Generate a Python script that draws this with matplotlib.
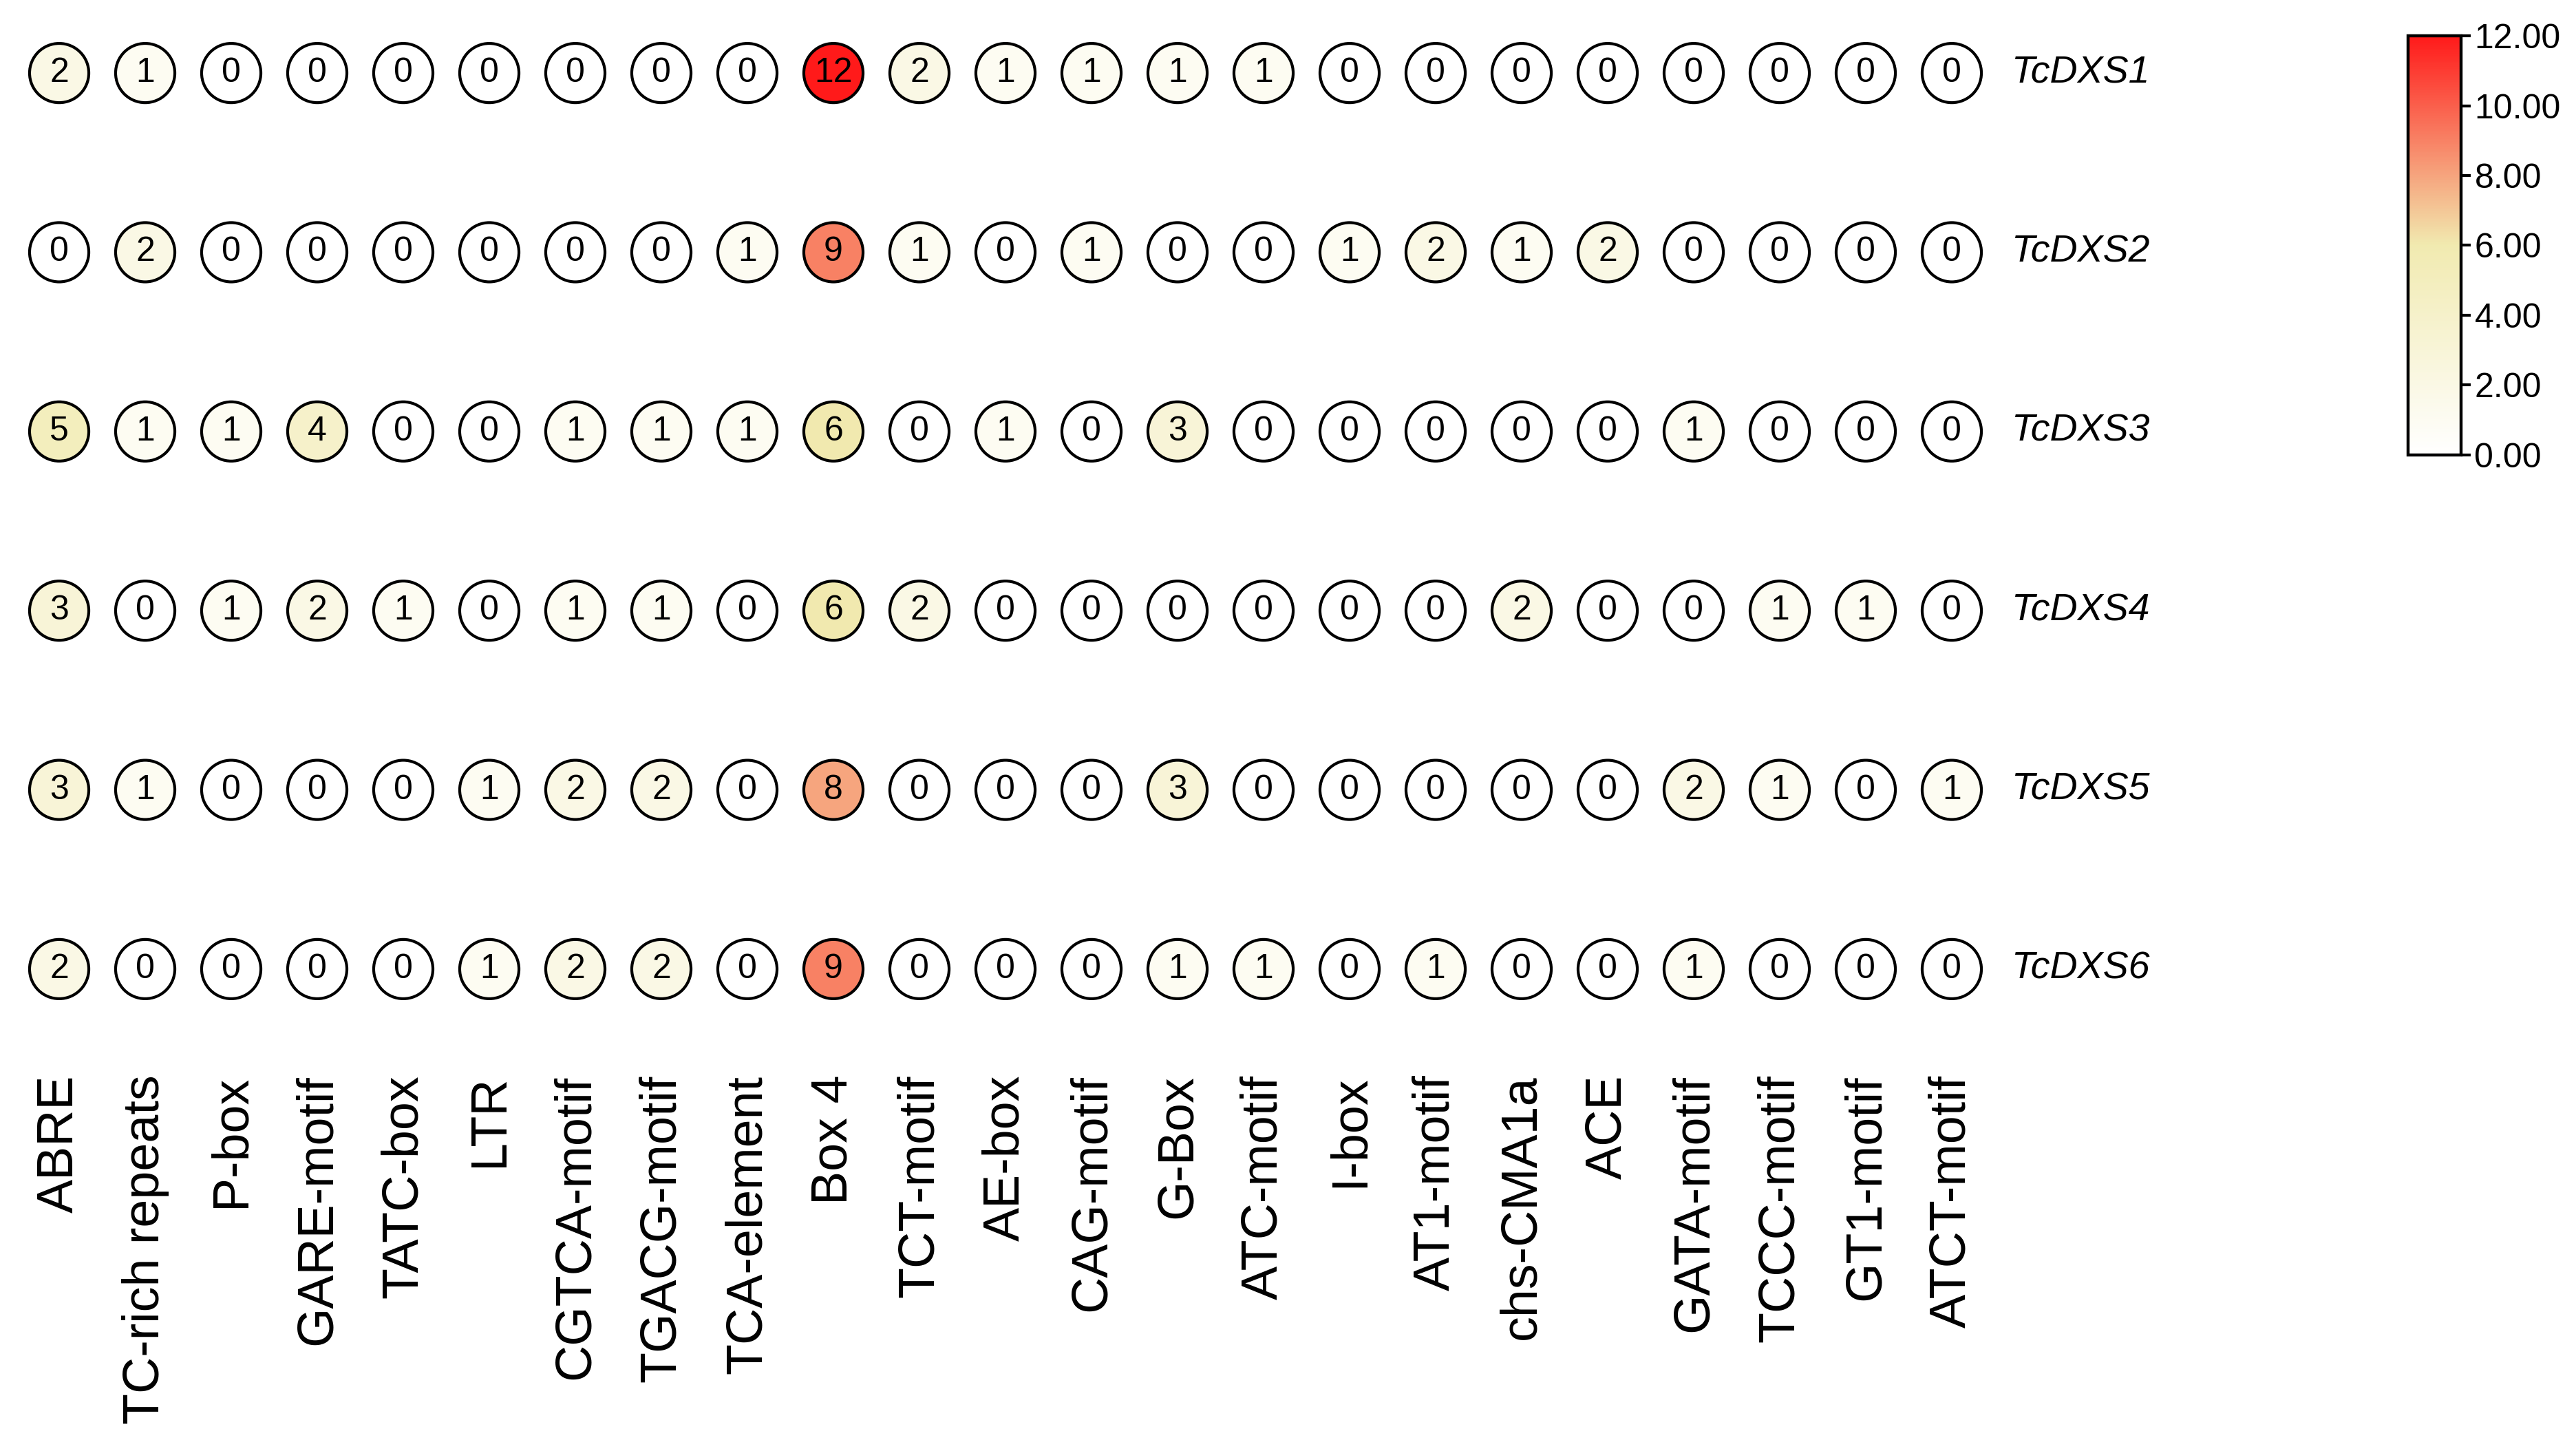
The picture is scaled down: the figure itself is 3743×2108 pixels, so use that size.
"""Cis-element counts in TcDXS promoters: bubble heatmap with colour bar."""

import numpy as np
import matplotlib
matplotlib.use("Agg")
import matplotlib.pyplot as plt
from matplotlib.colors import LinearSegmentedColormap, Normalize

plt.rcParams["font.family"] = ["Liberation Sans", "DejaVu Sans"]

elements = [
    "ABRE", "TC-rich repeats", "P-box", "GARE-motif", "TATC-box", "LTR",
    "CGTCA-motif", "TGACG-motif", "TCA-element", "Box 4", "TCT-motif",
    "AE-box", "CAG-motif", "G-Box", "ATC-motif", "I-box", "AT1-motif",
    "chs-CMA1a", "ACE", "GATA-motif", "TCCC-motif", "GT1-motif", "ATCT-motif",
]
genes = ["TcDXS1", "TcDXS2", "TcDXS3", "TcDXS4", "TcDXS5", "TcDXS6"]

tcdxs1 = [2, 1, 0, 0, 0, 0, 0, 0, 0, 12, 2, 1, 1, 1, 1, 0, 0, 0, 0, 0, 0, 0, 0]
tcdxs2 = [0, 2, 0, 0, 0, 0, 0, 0, 1, 9, 1, 0, 1, 0, 0, 1, 2, 1, 2, 0, 0, 0, 0]
tcdxs3 = [5, 1, 1, 4, 0, 0, 1, 1, 1, 6, 0, 1, 0, 3, 0, 0, 0, 0, 0, 1, 0, 0, 0]
tcdxs4 = [3, 0, 1, 2, 1, 0, 1, 1, 0, 6, 2, 0, 0, 0, 0, 0, 0, 2, 0, 0, 1, 1, 0]
tcdxs5 = [3, 1, 0, 0, 0, 1, 2, 2, 0, 8, 0, 0, 0, 3, 0, 0, 0, 0, 0, 2, 1, 0, 1]
tcdxs6 = [2, 0, 0, 0, 0, 1, 2, 2, 0, 9, 0, 0, 0, 1, 1, 0, 1, 0, 0, 1, 0, 0, 0]

cbar_ticks = [0, 2, 4, 6, 8, 10, 12]

counts = np.array([tcdxs1, tcdxs2, tcdxs3, tcdxs4, tcdxs5, tcdxs6])
n_rows, n_cols = counts.shape

cmap = LinearSegmentedColormap.from_list(
    "wyr", [(0.0, "#ffffff"), (0.5, "#f1eab0"), (1.0, "#ff1a1a")]
)
norm = Normalize(vmin=0, vmax=12)

W, H, DPI = 3743, 2108, 200
fig = plt.figure(figsize=(W / DPI, H / DPI), dpi=DPI)

# main grid axes, placed so that columns/rows land where the reference has them
ax = fig.add_axes([36 / W, 1 - 1486 / H, (2886 - 36) / W, (1486 - 28) / H])
ax.set_xlim(-0.4, n_cols - 1 + 0.4)
ax.set_ylim(n_rows - 1 + 0.3, -0.3)
ax.axis("off")

xx, yy = np.meshgrid(np.arange(n_cols), np.arange(n_rows))
ax.scatter(xx.ravel(), yy.ravel(), s=960, c=counts.ravel(), cmap=cmap, norm=norm,
           edgecolors="black", linewidths=1.5, zorder=2)

for i in range(n_rows):
    for j in range(n_cols):
        ax.text(j, i, str(counts[i, j]), ha="center", va="center",
                fontsize=18, color="black", zorder=3)

for i, g in enumerate(genes):
    ax.text(n_cols - 1 + 0.69, i, g, ha="left", va="center", fontsize=20,
            style="italic", clip_on=False)

for j, e in enumerate(elements):
    ax.text(j, n_rows - 1 + 0.59, e, ha="center", va="top", rotation=90,
            fontsize=26.5, clip_on=False)

# colour bar
cax = fig.add_axes([3499 / W, 1 - 661 / H, 77 / W, 609 / H])
sm = plt.cm.ScalarMappable(cmap=cmap, norm=norm)
cb = fig.colorbar(sm, cax=cax, ticks=cbar_ticks)
cb.ax.set_yticklabels([f"{t:.2f}" for t in cbar_ticks])
cb.outline.set_linewidth(1.6)
cb.ax.tick_params(labelsize=18, length=5, width=1.5, pad=2)

fig.savefig("out.png", dpi=DPI)
